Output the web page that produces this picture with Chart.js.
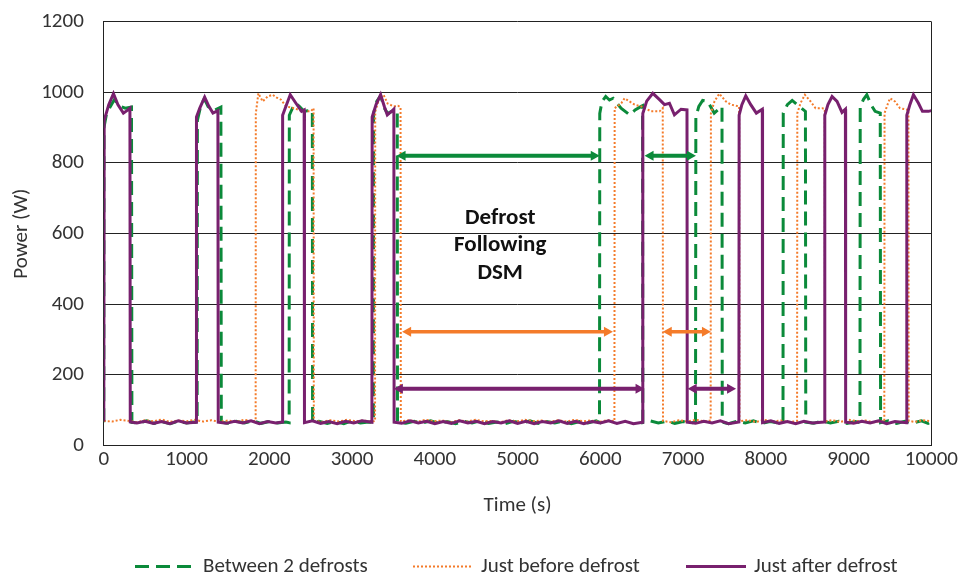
<!DOCTYPE html>
<html>
<head>
<meta charset="utf-8">
<script src="https://cdn.jsdelivr.net/npm/chart.js@4.4.0/dist/chart.umd.min.js"></script>
<style>
  body { margin: 0; background: #fff; }
  #wrap { width: 960px; height: 575px; }
</style>
</head>
<body>
<div id="wrap"><canvas id="myChart" width="960" height="575"></canvas></div>
<script>
// tick labels
const timeTicks = [0, 1000, 2000, 3000, 4000, 5000, 6000, 7000, 8000, 9000, 10000];
const powerTicks = [0, 200, 400, 600, 800, 1000, 1200];

// series: [time (s), power (W)]
const betweenDefrosts = [
    [0,66],[2,900],[30,935],[80,960],[130,980],[180,962],[260,955],[335,958],[340,66],
    [420,64],[520,70],[610,63],[700,68],[800,62],[900,69],[1000,64],[1080,67],[1128,65],
    [1131,920],[1170,960],[1215,982],[1260,960],[1330,948],[1415,958],[1420,66],
    [1500,63],[1600,69],[1700,64],[1800,70],[1900,63],[2000,68],[2100,64],[2200,67],[2240,65],
    [2242,935],[2280,955],[2322,969],[2362,960],[2420,946],[2520,950],[2523,64],
    [2600,69],[2700,63],[2800,68],[2900,62],[3000,70],[3100,64],[3200,67],[3258,65],
    [3260,940],[3300,975],[3345,990],[3390,955],[3430,940],[3500,948],[3546,952],[3549,66],
    [3650,63],[3750,69],[3850,64],[3950,70],[4050,63],[4150,68],[4250,62],[4350,69],[4450,64],
    [4550,70],[4650,63],[4750,67],[4850,62],[4950,69],[5050,64],[5150,70],[5250,63],[5350,68],
    [5450,64],[5550,69],[5650,62],[5750,68],[5850,64],[5950,70],[5990,66],
    [5993,940],[6020,974],[6065,988],[6110,978],[6154,983],[6250,955],[6354,936],[6420,950],[6494,960],[6510,962],[6513,65],
    [6600,70],[6700,64],[6800,69],[6900,63],[7000,68],[7100,64],[7150,67],
    [7154,930],[7190,960],[7236,977],[7296,974],[7376,941],[7420,950],[7456,960],[7470,958],[7473,66],
    [7550,62],[7650,69],[7750,64],[7850,70],[7950,63],[8050,68],[8150,64],[8207,67],
    [8210,941],[8260,965],[8318,977],[8378,965],[8478,946],[8482,66],
    [8580,63],[8680,70],[8780,64],[8880,69],[8980,63],[9080,68],[9137,65],
    [9140,960],[9180,980],[9220,993],[9270,965],[9320,946],[9382,941],[9386,65],
    [9480,70],[9580,63],[9680,69],[9780,64],[9880,70],[9960,63],[10000,68]
];

const justBefore = [
    [0,70],[100,68],[200,73],[300,70],[400,66],[500,72],[600,69],[700,74],[800,67],[900,71],
    [1000,69],[1100,73],[1200,68],[1300,72],[1400,67],[1500,71],[1600,68],[1700,73],[1800,69],[1835,70],
    [1837,940],[1868,997],[1920,974],[1980,988],[2040,993],[2090,985],[2142,979],[2202,960],[2300,955],[2402,946],[2503,946],[2535,955],[2538,70],
    [2640,67],[2740,72],[2840,68],[2940,73],[3040,69],[3140,71],[3240,67],[3278,70],
    [3280,945],[3330,985],[3380,993],[3430,968],[3505,960],[3554,962],[3586,958],[3589,68],
    [3690,72],[3790,67],[3890,73],[3990,69],[4090,71],[4190,66],[4290,72],[4390,68],[4490,73],
    [4590,69],[4690,70],[4790,66],[4890,72],[4990,68],[5090,73],[5190,69],[5290,71],[5390,67],
    [5490,72],[5590,68],[5690,73],[5790,69],[5890,71],[5990,67],[6090,72],[6170,69],
    [6173,955],[6253,969],[6293,983],[6353,974],[6414,965],[6494,960],[6614,946],[6715,946],[6754,955],[6757,70],
    [6850,66],[6950,72],[7050,68],[7150,73],[7250,69],[7333,71],
    [7336,941],[7380,975],[7437,996],[7517,974],[7577,965],[7677,960],[7680,69],
    [7780,72],[7880,67],[7980,73],[8080,68],[8180,71],[8280,66],[8377,70],
    [8380,941],[8420,970],[8472,993],[8540,974],[8600,955],[8680,955],[8712,952],[8715,68],
    [8800,72],[8900,67],[9000,73],[9100,69],[9200,71],[9300,66],[9431,70],
    [9434,941],[9470,965],[9500,983],[9560,974],[9620,955],[9680,952],[9723,950],[9726,70],
    [9800,67],[9900,72],[10000,69]
];

const justAfter = [
    [0,68],[5,920],[60,965],[117,996],[170,965],[237,941],[280,948],[316,955],[320,67],
    [400,64],[500,69],[600,63],[700,68],[800,62],[900,70],[1000,64],[1117,66],
    [1120,930],[1160,955],[1219,986],[1270,960],[1319,941],[1379,948],[1383,66],
    [1480,63],[1580,69],[1680,64],[1780,70],[1880,62],[1980,68],[2080,64],[2158,67],
    [2161,935],[2200,960],[2253,993],[2322,969],[2390,946],[2421,950],[2425,65],
    [2520,70],[2620,63],[2720,68],[2820,62],[2920,69],[3020,64],[3120,70],[3240,66],
    [3243,930],[3290,965],[3345,993],[3390,960],[3426,936],[3486,948],[3505,952],[3508,66],
    [3600,63],[3700,70],[3800,64],[3900,69],[4000,62],[4100,68],[4200,63],[4300,70],[4400,64],
    [4500,69],[4600,62],[4700,68],[4800,64],[4900,70],[5000,63],[5100,69],[5200,62],[5300,68],
    [5400,64],[5500,70],[5600,63],[5700,69],[5800,62],[5900,68],[6000,64],[6100,70],[6200,63],
    [6300,69],[6400,62],[6510,66],
    [6513,940],[6560,975],[6634,997],[6715,979],[6775,965],[6835,969],[6895,936],[6975,952],[7047,950],[7050,66],
    [7150,63],[7250,69],[7350,64],[7450,70],[7550,62],[7674,67],
    [7677,935],[7710,965],[7757,990],[7817,965],[7885,941],[7957,952],[7960,65],
    [8060,70],[8160,63],[8260,68],[8360,62],[8460,69],[8560,64],[8709,67],
    [8712,935],[8750,965],[8800,988],[8860,974],[8920,943],[8961,952],[8964,66],
    [9060,63],[9160,69],[9260,64],[9360,70],[9460,62],[9560,68],[9700,65],
    [9703,935],[9740,965],[9783,993],[9844,969],[9892,946],[9964,946],[10000,948]
];

// duration arrows: [start (s), end (s), level (W)]
const greenArrows = [[3538, 5993, 820], [6534, 7155, 820]];
const orangeArrows = [[3605, 6152, 322], [6754, 7336, 322]];
const purpleArrows = [[3505, 6534, 161], [7055, 7640, 161]];

const GREEN = '#0b8a3a';
const ORANGE = '#f47b2a';
const PURPLE = '#78206e';
const TEXT = '#333';
const FONT = 'Carlito, Lato, sans-serif';

function toXY(arr) {
    return arr.map(p => ({ x: p[0], y: p[1] }));
}

function drawArrow(ctx, x1, x2, yy, color, width) {
    const head = 9, half = 5;
    ctx.strokeStyle = color;
    ctx.fillStyle = color;
    ctx.lineWidth = width;
    ctx.setLineDash([]);
    ctx.beginPath();
    ctx.moveTo(x1 + head - 1, yy);
    ctx.lineTo(x2 - head + 1, yy);
    ctx.stroke();
    ctx.beginPath();
    ctx.moveTo(x2, yy);
    ctx.lineTo(x2 - head, yy - half);
    ctx.lineTo(x2 - head, yy + half);
    ctx.closePath();
    ctx.fill();
    ctx.beginPath();
    ctx.moveTo(x1, yy);
    ctx.lineTo(x1 + head, yy - half);
    ctx.lineTo(x1 + head, yy + half);
    ctx.closePath();
    ctx.fill();
}

const markupPlugin = {
    id: 'markup',
    afterDatasetsDraw(chart) {
        const { ctx, chartArea, scales } = chart;
        const x = scales.x, y = scales.y;
        ctx.save();

        // right edge of plot box
        ctx.strokeStyle = '#222';
        ctx.lineWidth = 1;
        ctx.beginPath();
        ctx.moveTo(Math.round(chartArea.right) + 0.5, chartArea.top);
        ctx.lineTo(Math.round(chartArea.right) + 0.5, chartArea.bottom);
        ctx.stroke();

        for (const a of greenArrows) {
            drawArrow(ctx, x.getPixelForValue(a[0]), x.getPixelForValue(a[1]), y.getPixelForValue(a[2]), GREEN, 4);
        }
        for (const a of orangeArrows) {
            drawArrow(ctx, x.getPixelForValue(a[0]), x.getPixelForValue(a[1]), y.getPixelForValue(a[2]), ORANGE, 3.5);
        }
        for (const a of purpleArrows) {
            drawArrow(ctx, x.getPixelForValue(a[0]), x.getPixelForValue(a[1]), y.getPixelForValue(a[2]), PURPLE, 4);
        }

        ctx.fillStyle = '#111';
        ctx.font = 'bold 23px ' + FONT;
        ctx.textAlign = 'center';
        ctx.textBaseline = 'middle';
        const tx = x.getPixelForValue(4790);
        ctx.fillText('Defrost', tx, y.getPixelForValue(644));
        ctx.fillText('Following', tx, y.getPixelForValue(566));
        ctx.fillText('DSM', tx, y.getPixelForValue(488));
        ctx.restore();
    },
    afterDraw(chart) {
        // legend row under the axis title
        const ctx = chart.ctx;
        const starts = [135, 413, 686];
        const ly = 566.5;
        ctx.save();
        ctx.font = '21px ' + FONT;
        ctx.textBaseline = 'middle';
        ctx.textAlign = 'left';
        chart.data.datasets.forEach((ds, i) => {
            const sx = starts[i];
            ctx.strokeStyle = ds.borderColor;
            ctx.lineWidth = ds.borderWidth;
            ctx.setLineDash(ds.borderDash || []);
            ctx.beginPath();
            ctx.moveTo(sx, ly);
            ctx.lineTo(sx + 60, ly);
            ctx.stroke();
            ctx.fillStyle = TEXT;
            ctx.fillText(ds.label, sx + 68, ly);
        });
        ctx.restore();
    }
};

const ctx = document.getElementById('myChart').getContext('2d');
new Chart(ctx, {
    type: 'line',
    data: {
        datasets: [
            {
                label: 'Between 2 defrosts',
                data: toXY(betweenDefrosts),
                borderColor: GREEN,
                backgroundColor: GREEN,
                borderWidth: 3,
                borderDash: [14, 7],
                pointRadius: 0,
                order: 2
            },
            {
                label: 'Just before defrost',
                data: toXY(justBefore),
                borderColor: ORANGE,
                backgroundColor: ORANGE,
                borderWidth: 2,
                borderDash: [2, 2],
                pointRadius: 0,
                order: 1
            },
            {
                label: 'Just after defrost',
                data: toXY(justAfter),
                borderColor: PURPLE,
                backgroundColor: PURPLE,
                borderWidth: 3,
                pointRadius: 0,
                order: 0
            }
        ]
    },
    options: {
        responsive: false,
        animation: false,
        layout: { padding: { left: 4, right: 0, top: 0, bottom: 57 } },
        plugins: {
            tooltip: { enabled: false },
            legend: { display: false }
        },
        scales: {
            x: {
                type: 'linear',
                min: timeTicks[0],
                max: timeTicks[timeTicks.length - 1],
                ticks: {
                    stepSize: timeTicks[1] - timeTicks[0],
                    padding: 2,
                    color: TEXT,
                    font: { family: FONT, size: 21 },
                    callback: v => String(v)
                },
                grid: { display: false, drawTicks: false },
                border: { display: true, color: '#222', width: 1 },
                title: {
                    display: true,
                    text: 'Time (s)',
                    color: TEXT,
                    font: { family: FONT, size: 21 },
                    padding: { top: 18, bottom: 0 }
                }
            },
            y: {
                min: powerTicks[0],
                max: powerTicks[powerTicks.length - 1],
                ticks: {
                    stepSize: powerTicks[1] - powerTicks[0],
                    padding: 9,
                    color: TEXT,
                    font: { family: FONT, size: 21 },
                    callback: v => String(v)
                },
                grid: { color: '#222', lineWidth: 1, drawTicks: true, tickLength: 11, tickColor: 'rgba(0,0,0,0)' },
                border: { display: true, color: '#222', width: 1 },
                title: {
                    display: true,
                    text: 'Power (W)',
                    color: TEXT,
                    font: { family: FONT, size: 21 },
                    padding: { top: 5, bottom: -2 }
                }
            }
        }
    },
    plugins: [markupPlugin]
});
</script>
</body>
</html>
